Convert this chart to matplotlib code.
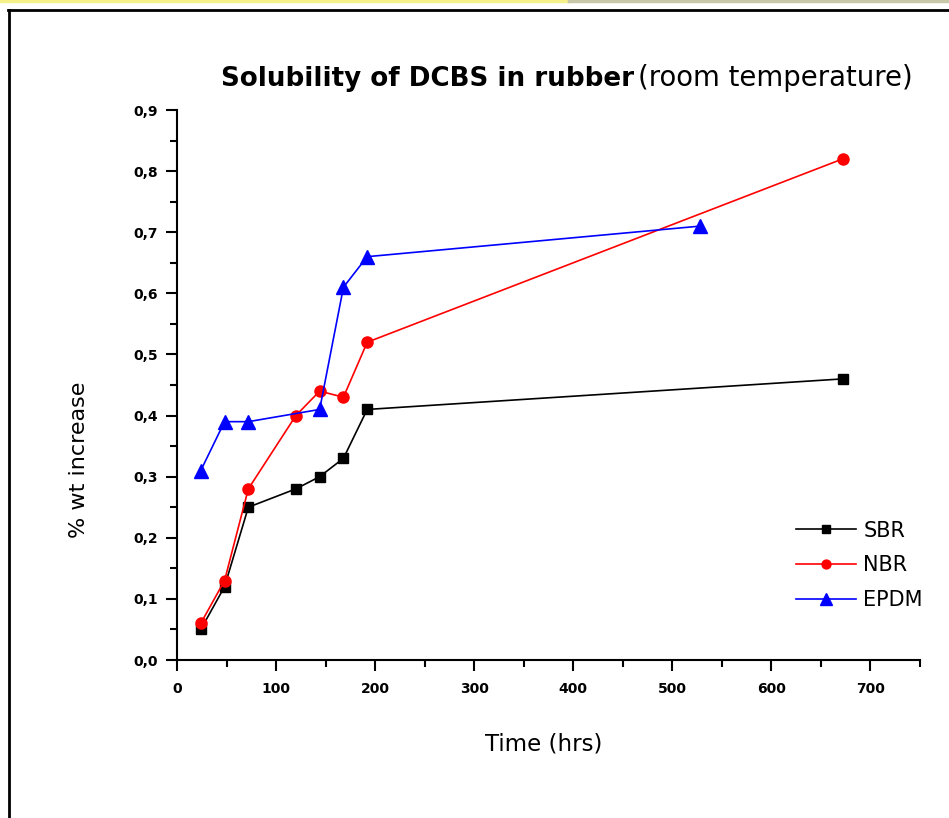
import matplotlib
matplotlib.use("Agg")
import matplotlib.pyplot as plt
from matplotlib.ticker import MultipleLocator, FuncFormatter
from matplotlib.lines import Line2D

# ---- data ----
sbr_x = [24, 48, 72, 120, 144, 168, 192, 672]
sbr_y = [0.05, 0.12, 0.25, 0.28, 0.30, 0.33, 0.41, 0.46]
nbr_x = [24, 48, 72, 120, 144, 168, 192, 672]
nbr_y = [0.06, 0.13, 0.28, 0.40, 0.44, 0.43, 0.52, 0.82]
epdm_x = [24, 48, 72, 144, 168, 192, 528]
epdm_y = [0.31, 0.39, 0.39, 0.41, 0.61, 0.66, 0.71]
series_names = ["SBR", "NBR", "EPDM"]

W, H = 949, 818
fig = plt.figure(figsize=(W / 100, H / 100), dpi=100)

# outer frame and top strip
fig.add_artist(Line2D([0, 0.6], [1 - 1 / H, 1 - 1 / H], color="#f6f08a", lw=2.5, transform=fig.transFigure))
fig.add_artist(Line2D([0.6, 1], [1 - 1 / H, 1 - 1 / H], color="#c8c8a8", lw=2.5, transform=fig.transFigure))
fig.add_artist(Line2D([8 / W, 1], [1 - 9.5 / H, 1 - 9.5 / H], color="black", lw=2, transform=fig.transFigure))
fig.add_artist(Line2D([8.5 / W, 8.5 / W], [0, 1 - 9.5 / H], color="black", lw=2, transform=fig.transFigure))

ax = fig.add_axes([177 / W, 1 - 660 / H, (920 - 177) / W, (660 - 110) / H])

ax.plot(sbr_x, sbr_y, color="black", lw=1.2, marker="s", ms=7, label=series_names[0])
ax.plot(nbr_x, nbr_y, color="red", lw=1.2, marker="o", ms=8, label=series_names[1])
ax.plot(epdm_x, epdm_y, color="blue", lw=1.2, marker="^", ms=10, label=series_names[2])

ax.set_xlim(0, 750)
ax.set_ylim(0, 0.9)
ax.xaxis.set_major_locator(MultipleLocator(100))
ax.xaxis.set_minor_locator(MultipleLocator(50))
ax.yaxis.set_major_locator(MultipleLocator(0.1))
ax.yaxis.set_minor_locator(MultipleLocator(0.05))
ax.yaxis.set_major_formatter(FuncFormatter(lambda v, p: f"{v:.1f}".replace(".", ",")))
ax.xaxis.set_major_formatter(FuncFormatter(lambda v, p: f"{int(round(v))}"))

for s in ["top", "right"]:
    ax.spines[s].set_visible(False)
for s in ["left", "bottom"]:
    ax.spines[s].set_linewidth(1.5)

ax.tick_params(axis="both", which="major", direction="out", length=8, width=1.5,
               labelsize=10)
ax.tick_params(axis="both", which="minor", direction="out", length=5, width=1.5)
for lab in ax.get_xticklabels() + ax.get_yticklabels():
    lab.set_fontweight("bold")
ax.tick_params(axis="x", pad=8)
ax.tick_params(axis="y", pad=6)

ax.set_xlabel("Time (hrs)", fontsize=16.5)
ax.xaxis.set_label_coords((544 - 177) / 743, -(744 - 660) / 550)
ax.xaxis.label.set_va("center")
ax.set_ylabel("% wt increase", fontsize=16)
ax.yaxis.set_label_coords((79 - 177) / 743, (660 - 460) / 550)
ax.yaxis.label.set_va("center")

fig.text(634 / W, 1 - 86 / H, "Solubility of DCBS in rubber", fontsize=18.8,
         fontweight="bold", ha="right", va="baseline")
fig.text(638 / W, 1 - 86 / H, "(room temperature)", fontsize=19.8,
         ha="left", va="baseline")

leg = ax.legend(loc="upper left", bbox_to_anchor=(777 / W, 1 - 502 / H),
                bbox_transform=fig.transFigure, frameon=False, fontsize=15,
                handlelength=2.9, handletextpad=0.35, labelspacing=0.7,
                markerscale=0.8)

fig.savefig("out.png", dpi=100)
